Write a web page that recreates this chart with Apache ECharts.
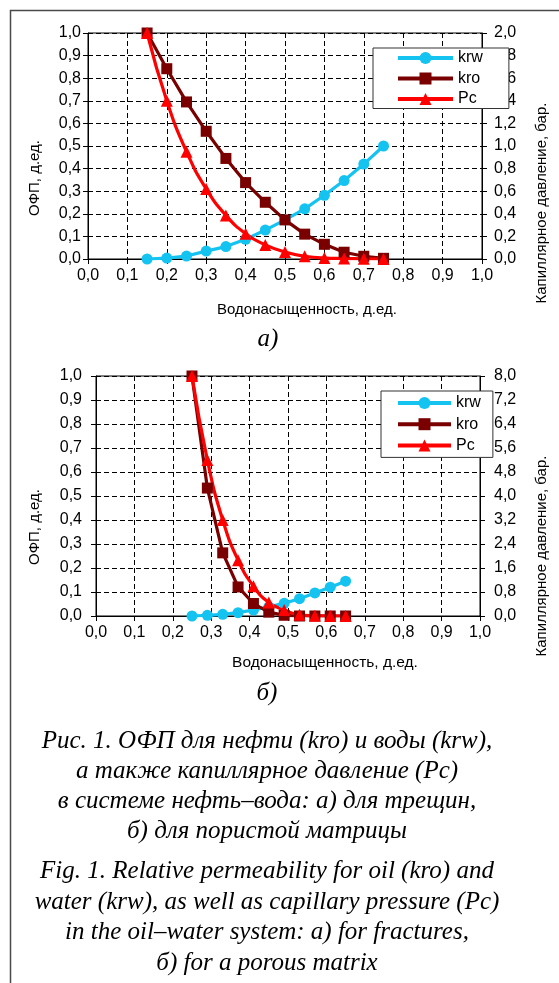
<!DOCTYPE html>
<html><head><meta charset="utf-8">
<script src="https://cdn.jsdelivr.net/npm/echarts@6/dist/echarts.min.js"></script>
<style>html,body{margin:0;padding:0;background:#fff}#c{width:559px;height:983px}</style>
</head><body><div id="c"></div>
<script>
// ---- data: a) fractures ----
const swA  = [0.15, 0.20, 0.25, 0.30, 0.35, 0.40, 0.45, 0.50, 0.55, 0.60, 0.65, 0.70, 0.75];
const krwA = [0.0, 0.004, 0.013, 0.035, 0.055, 0.087, 0.128, 0.173, 0.222, 0.282, 0.347, 0.42, 0.50];
const kroA = [1.0, 0.842, 0.695, 0.565, 0.445, 0.338, 0.251, 0.173, 0.11, 0.065, 0.03, 0.012, 0.003];
const pcA  = [2.0, 1.40, 0.95, 0.62, 0.386, 0.224, 0.125, 0.062, 0.024, 0.008, 0.004, 0.002, 0.0];
// ---- data: б) porous matrix ----
const swB  = [0.25, 0.29, 0.33, 0.37, 0.41, 0.45, 0.49, 0.53, 0.57, 0.61, 0.65];
const krwB = [0.0, 0.003, 0.007, 0.014, 0.025, 0.038, 0.053, 0.072, 0.096, 0.12, 0.145];
const kroB = [1.0, 0.533, 0.263, 0.121, 0.052, 0.016, 0.003, 0.0, 0.0, 0.0, 0.0];
const pcB  = [8.0, 5.2, 3.2, 1.86, 0.99, 0.45, 0.2, 0.04, 0.01, 0.0, 0.0];
// ---- axis ticks / labels ----
const xTicks = {min: 0, max: 1, step: 0.1};
const leftTicks = {min: 0, max: 1, step: 0.1};
const rightTicksA = {min: 0, max: 2, step: 0.2};
const rightTicksB = {min: 0, max: 8, step: 0.8};
const seriesNames = ['krw', 'kro', 'Pc'];
const xTitle = 'Водонасыщенность, д.ед.';
const yTitle = 'ОФП, д.ед.';
const y2Title = 'Капиллярное давление, бар.';
const capRu = 'Рис. 1. ОФП для нефти (kro) и воды (krw),\nа также капиллярное давление (Pc)\nв системе нефть–вода: а) для трещин,\nб) для пористой матрицы';
const capEn = 'Fig. 1. Relative permeability for oil (kro) and\nwater (krw), as well as capillary pressure (Pc)\nin the oil–water system: а) for fractures,\nб) for a porous matrix';

const SANS = "'Liberation Sans', Arial, sans-serif";
const SERIF = "'Liberation Serif', 'Times New Roman', serif";
const cKrw = '#14C3F0', cKro = '#7A0000', cPc = '#FF0000';
const fmt = v => v.toFixed(1).replace('.', ',');
const zip = (a, b) => a.map((x, i) => [x, b[i]]);

function xAx(gi) {
  return {type: 'value', gridIndex: gi, min: xTicks.min, max: xTicks.max, interval: xTicks.step,
    axisLine: {show: true, onZero: false, lineStyle: {color: '#000', width: 1}},
    axisTick: {show: true, length: 5, lineStyle: {color: '#000'}},
    axisLabel: {formatter: fmt, color: '#000', fontSize: 16, fontFamily: SANS, margin: 9},
    splitLine: {show: true, lineStyle: {color: '#000', width: 1, type: [5, 3]}}};
}
function yL(gi, margin) {
  return {type: 'value', gridIndex: gi, position: 'left', min: leftTicks.min, max: leftTicks.max, interval: leftTicks.step,
    axisLine: {show: true, onZero: false, lineStyle: {color: '#000', width: 1}},
    axisTick: {show: true, length: 5, lineStyle: {color: '#000'}},
    axisLabel: {formatter: fmt, color: '#000', fontSize: 16, fontFamily: SANS, margin: margin},
    splitLine: {show: true, lineStyle: {color: '#000', width: 1, type: [5, 3]}}};
}
function yR(gi, t, margin) {
  return {type: 'value', gridIndex: gi, position: 'right', min: t.min, max: t.max, interval: t.step,
    axisLine: {show: true, onZero: false, lineStyle: {color: '#000', width: 1}},
    axisTick: {show: true, length: 5, lineStyle: {color: '#000'}},
    axisLabel: {formatter: fmt, color: '#000', fontSize: 16, fontFamily: SANS, margin: margin},
    splitLine: {show: false}};
}
function ser(name, xi, yi, data, color, symbol, size, smooth) {
  return {name: name, type: 'line', xAxisIndex: xi, yAxisIndex: yi, data: data,
    symbol: symbol, symbolSize: size, smooth: smooth || false,
    lineStyle: {color: color, width: 3.2}, itemStyle: {color: color}, z: 3};
}
function legendAt(left, top, padding, itemWidth, itemGap) {
  return {data: seriesNames, orient: 'vertical', left: left, top: top, padding: padding,
    itemWidth: itemWidth, itemHeight: 15, itemGap: itemGap, selectedMode: false,
    lineStyle: {width: 4},
    borderColor: '#333', borderWidth: 1, borderRadius: 0, backgroundColor: '#fff',
    textStyle: {color: '#000', fontSize: 16, fontFamily: SANS, lineHeight: 17}};
}
function txt(x, y, text, opt) {
  return Object.assign({type: 'text', x: x, y: y, style: Object.assign({text: text, fill: '#000',
    align: 'center', verticalAlign: 'middle'}, opt.style)}, opt.el || {});
}

const chart = echarts.init(document.getElementById('c'), null, {renderer: 'canvas'});
chart.setOption({
  animation: false,
  backgroundColor: '#fff',
  grid: [
    {left: 88, top: 33, width: 394, height: 226, show: true, borderColor: '#000', borderWidth: 1, backgroundColor: 'transparent', outerBoundsMode: 'none'},
    {left: 96, top: 376, width: 384, height: 240, show: true, borderColor: '#000', borderWidth: 1, backgroundColor: 'transparent', outerBoundsMode: 'none'}
  ],
  xAxis: [xAx(0), xAx(1)],
  yAxis: [yL(0, 7), yR(0, rightTicksA, 12), yL(1, 14), yR(1, rightTicksB, 14)],
  legend: [
    legendAt(373, 48, [1.5, 26, 1, 23], 55, 3.5),
    legendAt(381, 391, [3.5, 12, 3.5, 15], 53, 4.2)
  ],
  series: [
    ser('krw', 0, 0, zip(swA, krwA), cKrw, 'circle', 11),
    ser('kro', 0, 0, zip(swA, kroA), cKro, 'rect', 11),
    ser('Pc', 0, 1, zip(swA, pcA), cPc, 'triangle', 12, 0.5),
    ser('krw', 1, 2, zip(swB, krwB), cKrw, 'circle', 11),
    ser('kro', 1, 2, zip(swB, kroB), cKro, 'rect', 11),
    ser('Pc', 1, 3, zip(swB, pcB), cPc, 'triangle', 12, 0.5)
  ],
  graphic: [
    {type: 'rect', shape: {x: 10.5, y: 10.5, width: 700, height: 1100}, style: {fill: 'none', stroke: '#4a4a4a', lineWidth: 1.5}, silent: true},
    txt(0, 0, yTitle, {el: {x: 35, y: 178, rotation: Math.PI / 2}, style: {fontSize: 15, fontFamily: SANS}}),
    txt(0, 0, y2Title, {el: {x: 542, y: 203, rotation: Math.PI / 2}, style: {fontSize: 15, fontFamily: SANS}}),
    txt(307, 310, xTitle, {style: {fontSize: 15, fontFamily: SANS}}),
    txt(268, 339, 'а)', {style: {fontSize: 25, fontFamily: SERIF, fontStyle: 'italic'}}),
    txt(0, 0, yTitle, {el: {x: 35, y: 527, rotation: Math.PI / 2}, style: {fontSize: 15, fontFamily: SANS}}),
    txt(0, 0, y2Title, {el: {x: 542, y: 556, rotation: Math.PI / 2}, style: {fontSize: 15, fontFamily: SANS}}),
    txt(325, 663, xTitle, {style: {fontSize: 15.5, fontFamily: SANS}}),
    txt(267, 693, 'б)', {style: {fontSize: 25, fontFamily: SERIF, fontStyle: 'italic'}}),
    txt(267, 786, capRu, {style: {fontSize: 25, fontFamily: SERIF, fontStyle: 'italic', lineHeight: 30}}),
    txt(267, 917.5, capEn, {style: {fontSize: 25, fontFamily: SERIF, fontStyle: 'italic', lineHeight: 30.5}})
  ]
});
</script>
</body></html>
